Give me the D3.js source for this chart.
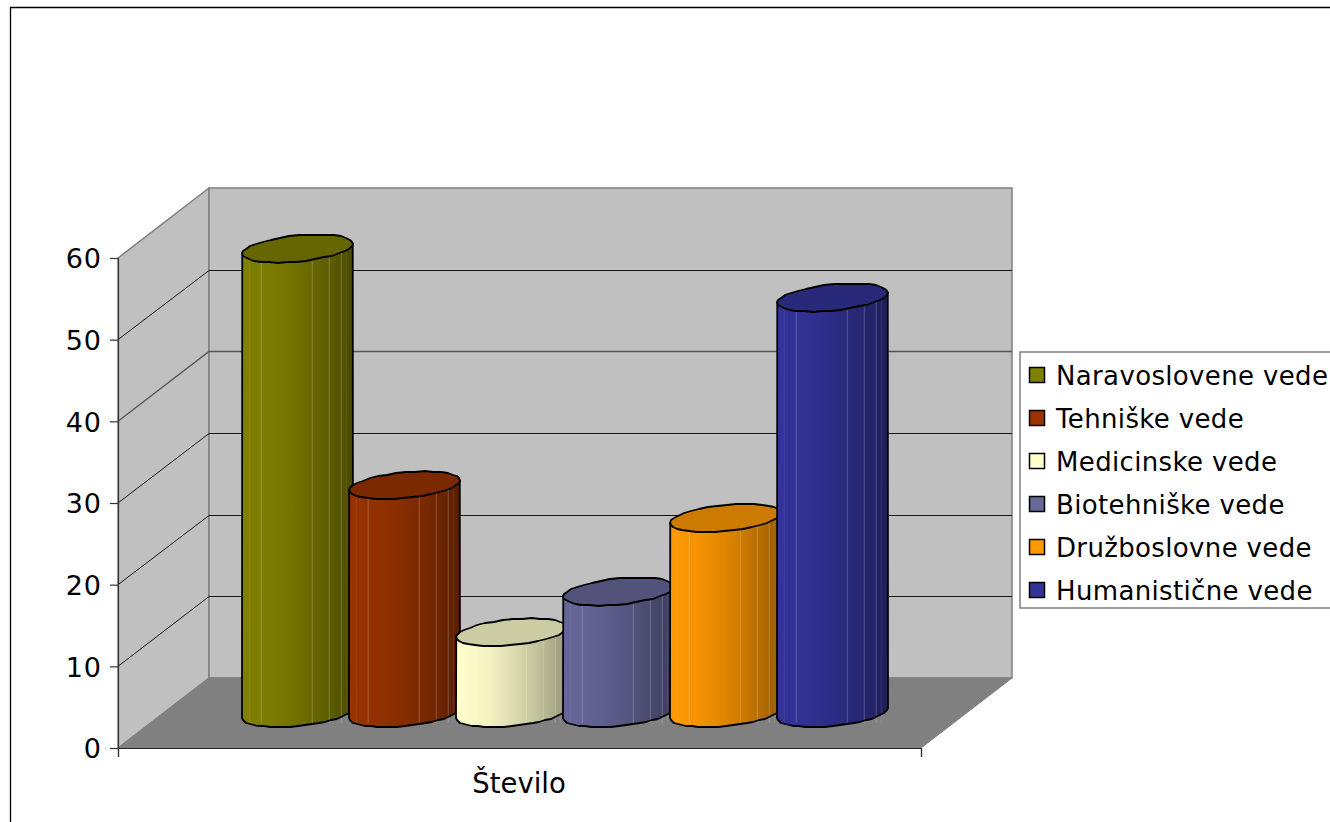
<!DOCTYPE html>
<html><head><meta charset="utf-8">
<script src="https://cdn.jsdelivr.net/npm/d3@7"></script>
<style>html,body{margin:0;padding:0;background:#fff}svg{display:block}text{font-family:"DejaVu Sans",sans-serif;fill:#000}</style>
</head><body><svg id="c" width="1330" height="822"></svg>
<script>
const categories = ["Naravoslovene vede","Tehniške vede","Medicinske vede","Biotehniške vede","Družboslovne vede","Humanistične vede"];
const values = [57,28,10,15,24,51];
const colors = ["#808000","#993300","#ffffcc","#666699","#ff9900","#333399"];
const yTicks = [0,10,20,30,40,50,60];
const xLabel = "Število";

const svg = d3.select("#c");
const W = 803, H = 490, X0 = 118, Y0 = 748, DX = 91, DY = -70;
const y = d3.scaleLinear().domain([0,60]).range([Y0, Y0-H]);
const x = d3.scaleBand().domain(categories).range([242, 242+107*6]).paddingInner(0).paddingOuter(0);

// frame
svg.append("path").attr("d","M10.5 822V7.5H1330").attr("fill","none").attr("stroke","#000").attr("stroke-width",1.3);

// walls
const g = "#808080";
svg.append("path").attr("d",`M${X0} ${Y0}L${X0} ${y(60)}L${X0+DX} ${y(60)+DY}L${X0+DX} ${Y0+DY}Z`).attr("fill","#c0c0c0").attr("stroke",g).attr("stroke-width",1.5);
svg.append("rect").attr("x",X0+DX).attr("y",y(60)+DY).attr("width",W).attr("height",H).attr("fill","#c0c0c0").attr("stroke",g).attr("stroke-width",1.5);
svg.append("path").attr("d",`M${X0} ${Y0}L${X0+DX} ${Y0+DY}L${X0+DX+W} ${Y0+DY}L${X0+W} ${Y0}Z`).attr("fill","#808080").attr("stroke",g);

// gridlines
yTicks.filter(t=>t>0&&t<60).forEach(t=>{
  const yb = Math.round(y(t)+DY)+0.5;
  svg.append("path").attr("d",`M${X0} ${y(t)}L${X0+DX} ${yb}L${X0+DX+W} ${yb}`)
    .attr("fill","none").attr("stroke",t===40?"#555":"#000").attr("stroke-width",t===40?1.3:0.9);
});

// axes
const ax = svg.append("g").attr("transform",`translate(${X0},0)`)
  .call(d3.axisLeft(y).tickValues(yTicks).tickSize(8).tickPadding(8).tickFormat(d3.format("d")));
ax.select(".domain").attr("stroke","#333").attr("stroke-width",1.2);
ax.selectAll(".tick line").attr("stroke","#333").attr("stroke-width",1.2);
ax.selectAll("text").attr("font-size",27).attr("letter-spacing",1).attr("dy","0.36em").attr("fill","#000").style("font-family",'"DejaVu Sans",sans-serif');

const xa = d3.scaleLinear().domain([0,1]).range([X0,X0+W]);
const bx = svg.append("g").attr("transform",`translate(0,${Y0})`)
  .call(d3.axisBottom(xa).tickValues([0,1]).tickSize(9).tickFormat(""));
bx.select(".domain").attr("stroke","#222").attr("stroke-width",1.2);
bx.selectAll(".tick line").attr("stroke","#333").attr("stroke-width",1.2);
svg.append("text").attr("x",519).attr("y",793).attr("text-anchor","middle").attr("font-size",27.5).text(xLabel);

// cylinders
const defs = svg.append("defs");
const UX = 51.5, VX = 20, VY = 14;
const bw = x.bandwidth();
const stripes = [7,19,70,87,99,104];
const pt = (cx,cy,t)=>[cx+UX*Math.cos(t)+VX*Math.sin(t), cy-VY*Math.sin(t)];
const snap = p=>[Math.round(p[0]),Math.round(p[1])];
const tMax = Math.atan2(VX,UX);            // parameter of the rightmost point
const line = d3.line();
categories.forEach((c,i)=>{
  const col = d3.rgb(colors[i]);
  const mix = k=>d3.rgb(col.r*k,col.g*k,col.b*k).formatHex();
  const id = "g"+i;
  const gr = defs.append("linearGradient").attr("id",id);
  [[0,1],[.3,.95],[.55,.85],[.8,.72],[1,.58]].forEach(s=>gr.append("stop").attr("offset",s[0]).attr("stop-color",mix(s[1])));
  const cx = x(c)+bw/2+2, cyTop = y(values[i])+DY/2+1, cyBase = Y0+DY/2;
  const lowerPts = d3.range(25).map(k=>snap(pt(cx,cyBase,tMax-Math.PI*k/24)));
  const rTop = pt(cx,cyTop,tMax), lTop = pt(cx,cyTop,tMax-Math.PI);
  const body = [rTop,...lowerPts,lTop];
  const b = svg.append("g");
  b.append("path").attr("d",line(body)+"Z").attr("fill",`url(#${id})`);
  stripes.forEach(s=>{
    const sx = lTop[0]+s;
    b.append("line").attr("x1",sx).attr("x2",sx).attr("y1",cyTop).attr("y2",cyBase+10)
      .attr("stroke","#fff").attr("stroke-opacity",s===7||s===104?0.08:0.22).attr("stroke-width",1);
  });
  b.append("path").attr("d",line(body)+"Z").attr("fill","none").attr("stroke","#000").attr("stroke-width",1.8).attr("stroke-linejoin","round");
  const ringPts = d3.range(36).map(k=>snap(pt(cx,cyTop,2*Math.PI*k/36)));
  b.append("path").attr("d",line(ringPts)+"Z").attr("fill",mix(.8)).attr("stroke","#000").attr("stroke-width",1.8).attr("stroke-linejoin","round");
});

// legend
svg.append("rect").attr("x",1020).attr("y",352).attr("width",340).attr("height",256).attr("fill","#fff").attr("stroke",g).attr("stroke-width",1.5);
const ly = d3.scalePoint().domain(categories).range([375,590]);
categories.forEach((c,i)=>{
  svg.append("rect").attr("x",1029.5).attr("y",ly(c)-7.5).attr("width",15).attr("height",15).attr("fill",colors[i]).attr("stroke","#000").attr("stroke-width",1.5);
  svg.append("text").attr("x",1056).attr("y",ly(c)+10).attr("font-size",26).attr("letter-spacing",0.35).text(c);
});
</script></body></html>
